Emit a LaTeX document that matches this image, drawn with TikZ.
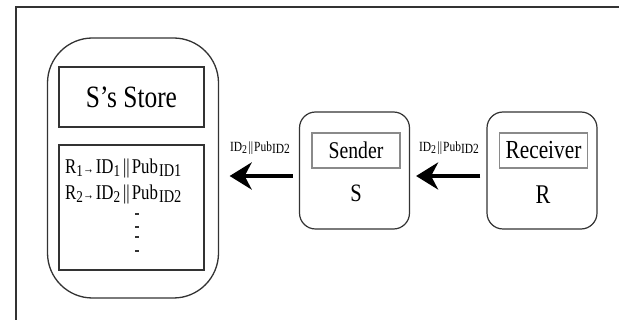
\documentclass[tikz,border=0pt]{standalone}
\usepackage{fontspec}
\setmainfont{Liberation Serif}[FakeStretch=0.82]
\newfontfamily\listfont{Liberation Serif}[FakeStretch=0.80]
\usetikzlibrary{arrows.meta}
\definecolor{edge}{HTML}{333333}
\definecolor{lightedge}{HTML}{8A8A8A}
\newcommand{\pubsub}[1]{\hspace{1pt}\raisebox{-0.3ex}{\fontsize{18}{18}\selectfont #1}}
\newcommand{\lowsub}[1]{\raisebox{-0.25ex}{\fontsize{16.5}{16.5}\selectfont #1}}
\newcommand{\smallarr}{\raisebox{0.1ex}{\fontsize{13.5}{13.5}\selectfont →}}
\newcommand{\bars}{\hspace{3pt}||\hspace{2pt}}
\begin{document}
\begin{tikzpicture}[x=1pt,y=-1pt,
  outerbox/.style={draw=edge,line width=1.2pt,rounded corners=16pt,minimum width=110pt,minimum height=117pt,inner sep=0pt},
  innerbox/.style={draw=lightedge,line width=1.2pt,minimum width=88pt,minimum height=35pt,inner sep=0pt},
  storebox/.style={draw=edge,line width=1.4pt,minimum width=145pt,inner sep=0pt},
  bigarrow/.style={line width=4.5pt,-{Stealth[length=22pt,width=27pt,inset=7pt]}},
  tinylabel/.style={font=\fontsize{14}{14}\selectfont,inner sep=0pt},
  listline/.style={anchor=base west,inner sep=0pt,font=\listfont\fontsize{21}{21}\selectfont},
  dotmark/.style={line width=1.8pt,edge}]
\useasboundingbox (0,0) rectangle (619,320);
\fill[white] (0,0) rectangle (619,320);
% frame
\draw[edge,line width=1.2pt] (16,330) -- (16,7) -- (630,7);
% big store container
\node[draw=edge,line width=1.3pt,rounded corners=45pt,minimum width=171pt,minimum height=260pt,inner sep=0pt] (store) at (133,168) {};
\node[storebox,minimum height=60pt,font=\fontsize{31}{31}\selectfont] (title) at (131.5,97) {S’s Store};
\node[storebox,minimum height=125pt] (list) at (131.5,207.5) {};
\node[listline] (r1) at (65,174) {R\lowsub{1}\smallarr\hspace{2pt}ID\lowsub{1}\bars Pub\pubsub{ID1}};
\node[listline] (r2) at (65,200) {R\lowsub{2}\smallarr\hspace{2pt}ID\lowsub{2}\bars Pub\pubsub{ID2}};
\draw[dotmark] (135,214) -- (139,214);
\draw[dotmark] (135,227) -- (139,227);
\draw[dotmark] (135,237) -- (139,237);
\draw[dotmark] (135,251) -- (139,251);
% sender
\node[outerbox] (sender) at (354.5,170.5) {};
\node[innerbox,font=\fontsize{24}{24}\selectfont] (sendername) at (356,150.5) {Sender};
\node[font=\fontsize{25}{25}\selectfont,inner sep=0pt] (slabel) at (356,193) {S};
% receiver
\node[outerbox] (receiver) at (542,170.5) {};
\node[innerbox,font=\fontsize{26}{26}\selectfont] (receivername) at (543.5,150.5) {Receiver};
\node[font=\fontsize{27}{27}\selectfont,inner sep=0pt] (rlabel) at (543,195) {R};
% arrows
\coordinate (sOut) at ([yshift=-5.5pt]sender.west);
\coordinate (sIn) at ([yshift=-5.5pt]sender.east);
\coordinate (rOut) at ([yshift=-5.5pt]receiver.west);
\draw[bigarrow,shorten <=6pt,shorten >=10.5pt] (sOut) -- (store.east |- sOut);
\draw[bigarrow,shorten <=6pt,shorten >=6pt] (rOut) -- (sIn);
\node[tinylabel] (lab1) at (260,148) {ID\raisebox{-0.3ex}{\fontsize{12}{12}\selectfont 2}\hspace{1.5pt}||\hspace{1pt}Pub\raisebox{-0.35ex}{ID2}};
\node[tinylabel] (lab2) at (449,148) {ID\raisebox{-0.3ex}{\fontsize{12}{12}\selectfont 2}\hspace{1.5pt}||\hspace{1pt}Pub\raisebox{-0.35ex}{ID2}};
\end{tikzpicture}
\end{document}
